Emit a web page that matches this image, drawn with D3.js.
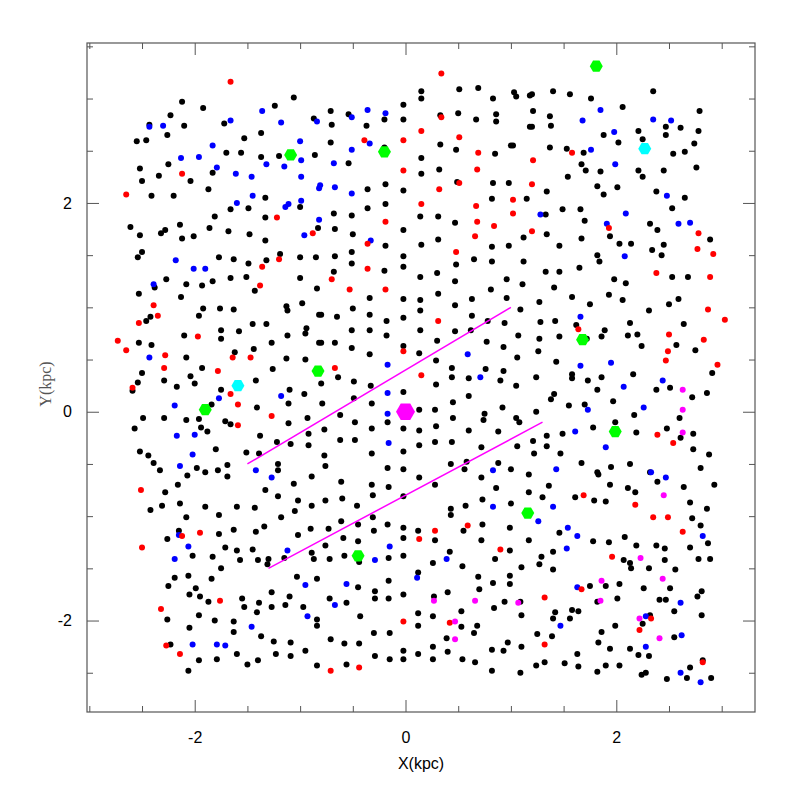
<!DOCTYPE html>
<html>
<head>
<meta charset="utf-8">
<script src="https://cdn.jsdelivr.net/npm/d3@7"></script>
<style>
  body { margin: 0; background: #fff; }
  svg { display: block; }
</style>
</head>
<body>
<div id="chart"></div>
<script>
// tick values (kpc)
const majorTicks = [-2, 0, 2];
const minorTicksX = [-3, -2.5, -1.5, -1, -0.5, 0.5, 1, 1.5, 2.5, 3];
const minorTicksY = [-2.5, -1.5, -1, -0.5, 0.5, 1, 1.5, 2.5, 3, 3.5];

// guide lines [[x1,y1],[x2,y2]]
const guideLines = [
    [[-1.5, -0.5], [1.0, 1.0]],
    [[-1.3, -1.5], [1.3, -0.1]]
];

const centre = [[0, 0]];
const greenStars = [[-1.09,2.46],[-0.20,2.49],[1.81,3.31],[-0.83,0.39],[-1.90,0.02],[1.68,0.69],[1.99,-0.19],[1.16,-0.97],[-0.45,-1.38]];
const cyanStars = [[2.27,2.52],[-1.59,0.25]];

const magentaStars = [[2.63,0.21],[2.63,0.02],[2.63,-0.20],[0.27,-1.81],[0.66,-1.81],[1.07,-1.83],[0.47,-2.01],[0.47,-2.18],
    [2.45,-0.80],[2.23,-1.40],[1.86,-1.62],[2.44,-1.60],[1.85,-1.81],[2.22,-1.98],[2.41,-2.17]];

const redStars = [[-1.66,3.16],[-2.12,2.28],[-2.65,2.08],[-1.22,1.86],[-0.88,1.71],[-1.20,1.46],[-1.36,1.39],
    [0.34,3.24],[0.34,2.82],[0.15,2.69],[0.51,2.63],[-0.39,2.60],[-0.02,2.60],[0.69,2.48],[-0.02,2.31],[0.68,2.32],[0.32,2.13],[0.51,2.19],[1.02,2.03],[0.15,1.99],[0.67,1.97],[0.68,1.82],[0.84,1.78],[1.02,1.90],[-0.19,1.82],[0.66,1.68],[-0.36,1.61],[0.48,1.53],[-0.36,1.37],
    [1.58,2.48],[1.21,2.41],[1.20,2.18],[1.93,1.76],[2.78,1.71],[1.20,1.73],[2.77,1.56],[2.92,1.51],
    [-1.38,1.21],[-2.39,1.02],[-2.35,0.92],[-2.53,0.85],[-2.73,0.68],[-2.65,0.59],[-1.97,0.72],[-2.28,0.54],[-1.64,0.52],[-1.47,0.52],[-2.29,0.42],[-1.78,0.39],[-2.59,0.23],[-1.66,0.17],[-1.59,0.07],[-1.27,-0.04],[-1.59,-0.13],
    [-0.70,1.27],[-0.53,1.17],[-0.19,1.17],[0.31,0.87],[-0.02,0.58],[-0.67,0.42],[0.15,0.35],
    [2.38,1.33],[2.89,1.29],[2.87,0.98],[3.03,0.88],[1.64,0.79],[2.50,0.74],[2.83,0.69],[2.49,0.58],[2.47,0.49],[2.96,0.45],[2.39,-0.22],[2.54,-0.30],
    [-2.51,-0.75],[-2.12,-1.19],[-1.95,-1.16],[-2.50,-1.30],[-1.76,-1.81],[-2.32,-1.89],[-2.27,-2.24],[-2.14,-2.32],
    [0.28,-1.14],[0.59,-1.09],[0.13,-1.22],[0.90,-1.32],[-0.02,-2.01],[0.42,-2.02],[-0.71,-2.48],[-0.44,-2.45],
    [1.69,-0.80],[2.18,-0.89],[2.35,-1.01],[2.49,-1.01],[2.63,-1.15],[1.96,-1.39],[1.67,-1.70],[1.32,-1.78],[2.33,-1.98],[2.22,-2.09],[1.32,-2.23],[2.82,-2.40]];

const blueStars = [[-1.36,2.88],[-2.43,2.73],[-2.30,2.74],[-1.66,2.79],[-1.18,2.77],[-0.84,2.78],[-1.00,2.59],[-1.83,2.55],[-2.13,2.43],[-1.96,2.44],[-0.99,2.41],[-1.32,2.37],[-1.15,2.35],[-1.79,2.34],[-1.61,2.28],[-1.46,2.25],[-0.99,2.25],[-0.82,2.14],[-1.45,2.07],[-1.60,2.00],[-1.11,1.99],[-1.14,1.96],[-0.99,2.02],[-0.82,1.84],[-0.96,1.69],[-2.18,1.45],[-2.01,1.37],[-1.90,1.37],
    [-0.36,2.89],[-0.51,2.82],[-0.19,2.86],[-0.34,2.57],[-0.51,2.51],[-0.68,2.38],[-0.81,2.17],[-0.67,2.15],[-0.51,2.09],[-0.33,1.64],
    [1.85,2.89],[1.68,2.79],[2.35,2.80],[2.52,2.79],[1.98,2.68],[1.76,2.51],[1.99,2.37],[2.48,2.07],[1.28,1.89],[2.09,1.90],[1.91,1.80],[2.59,1.80],[2.70,1.81],[2.08,1.49],
    [-2.39,1.22],[-2.43,0.52],[-1.77,0.13],[-1.18,0.15],[-2.19,0.06],[-2.17,-0.23],[-2.00,-0.22],[-2.02,-0.41],[-2.14,-0.52],[-1.42,-0.56],[-1.27,-0.63],
    [0.59,0.55],[-0.17,0.45],[0.71,0.33],[-0.17,0.18],[-0.17,-0.02],[-0.16,-0.30],[0.83,-0.56],
    [1.66,0.91],[1.66,0.44],[1.95,0.47],[2.44,0.30],[2.07,0.24],[1.73,0.02],[2.26,0.04],[1.61,-0.19],[1.90,-0.34],[2.33,-0.58],[2.47,-0.63],[1.43,-0.55],
    [-2.15,-1.18],[-2.06,-1.29],[-2.19,-1.41],[-1.12,-1.33],[-0.95,-1.66],[-0.93,-1.96],[-1.46,-2.06],[-2.02,-2.23],[-1.79,-2.23],[-1.71,-2.24],
    [0.83,-0.91],[-0.15,-1.29],[-0.29,-1.42],[0.39,-1.41],[0.11,-1.59],[-0.56,-1.65],[-0.67,-1.85],
    [1.40,-0.91],[1.26,-1.05],[2.82,-1.19],[1.54,-1.11],[1.63,-1.19],[1.53,-1.31],[1.63,-1.68],[2.61,-1.83],[1.47,-2.05],[2.28,-1.96],[2.62,-2.14],[2.28,-2.25],[2.61,-2.50],[2.80,-2.59]];

const blackStars = [[-2.12,2.97],[-1.06,3.01],[-2.23,2.84],[-1.92,2.91],[-1.24,2.93],[-2.43,2.75],[-2.10,2.74],[-2.26,2.65],[-1.72,2.76],[-0.87,2.81],[-1.37,2.67],[-1.53,2.62],[-2.55,2.59],[-2.46,2.60],[-1.70,2.48],[-1.56,2.48],[-1.37,2.44],[-1.20,2.45],[-0.86,2.46],[-2.52,2.33],[-2.25,2.37],[-1.83,2.29],[-2.34,2.26],[-2.50,2.21],[-2.04,2.21],[-1.87,2.13],[-2.41,2.07],[-2.20,2.07],[-1.33,2.05],[-1.49,1.95],[-1.00,1.96],[-1.66,1.94],[-1.81,1.87],[-1.33,1.86],[-2.61,1.77],[-2.14,1.79],[-2.32,1.71],[-2.28,1.74],[-2.52,1.69],[-2.12,1.66],[-2.01,1.68],[-1.86,1.76],[-1.68,1.73],[-1.48,1.70],[-1.33,1.64],[-0.83,1.76],[-2.50,1.53],[-2.54,1.48],[-1.77,1.48],[-1.63,1.46],[-1.49,1.42],[-1.32,1.45],[-1.19,1.51],[-1.00,1.48],[-0.85,1.48],
    [0.15,3.07],[0.15,3.00],[0.51,3.09],[0.69,3.10],[0.83,3.00],[1.03,3.06],[1.05,3.02],[1.18,3.03],[-0.71,2.88],[-0.54,2.85],[-0.20,2.80],[-0.02,2.94],[-0.02,2.80],[0.33,2.84],[0.50,2.86],[0.67,2.80],[0.86,2.85],[0.86,2.78],[1.18,2.73],[-0.70,2.75],[-0.37,2.74],[-0.71,2.58],[-0.20,2.53],[0.33,2.56],[0.48,2.51],[0.85,2.47],[1.00,2.55],[1.02,2.55],[-0.54,2.38],[0.15,2.43],[0.15,2.28],[0.32,2.32],[-0.36,2.13],[-0.19,2.18],[-0.02,2.12],[0.49,2.20],[0.83,2.19],[0.98,2.19],[0.82,2.04],[1.15,2.04],[-0.68,1.90],[-0.51,1.88],[-0.36,1.95],[-0.19,1.99],[0.14,1.87],[0.31,1.87],[0.47,1.81],[-0.67,1.75],[-0.50,1.70],[-0.02,1.74],[1.12,1.67],[-0.19,1.59],[0.15,1.60],[0.31,1.65],[0.82,1.58],[0.98,1.59],[-0.67,1.49],[-0.51,1.53],[-0.51,1.42],[-0.02,1.49],[0.65,1.46],[0.82,1.44],[1.12,1.44],[0.48,1.41],[-0.02,1.39],[-0.20,1.35],
    [1.20,3.04],[1.40,3.07],[1.56,3.04],[1.76,3.00],[2.35,3.07],[1.21,2.88],[2.06,2.92],[2.79,2.88],[1.37,2.83],[1.20,2.73],[1.38,2.74],[2.47,2.73],[2.47,2.65],[2.61,2.72],[2.78,2.69],[2.21,2.69],[1.88,2.65],[2.25,2.61],[2.02,2.58],[2.74,2.57],[1.37,2.53],[1.53,2.52],[1.69,2.48],[2.54,2.47],[2.65,2.49],[1.67,2.37],[1.71,2.31],[1.85,2.30],[2.21,2.31],[2.25,2.25],[2.45,2.31],[2.76,2.34],[1.54,2.25],[1.34,2.11],[1.82,2.16],[1.88,2.08],[2.01,2.15],[2.38,2.11],[2.65,2.05],[2.53,1.95],[1.49,1.94],[1.66,1.94],[1.33,1.89],[1.70,1.83],[2.32,1.80],[2.39,1.74],[2.89,1.65],[1.34,1.70],[1.67,1.66],[1.94,1.68],[1.46,1.59],[2.03,1.61],[2.14,1.61],[2.45,1.60],[2.34,1.55],[2.43,1.50],[1.82,1.50],[1.84,1.44],[1.65,1.38],
    [-2.27,1.27],[-2.38,1.19],[-2.08,1.22],[-1.93,1.21],[-1.83,1.25],[-1.66,1.28],[-1.51,1.29],[-1.43,1.16],[-1.00,1.28],[-0.84,1.18],[-2.53,1.13],[-2.13,1.10],[-2.42,0.91],[-2.46,0.87],[-1.92,0.99],[-1.96,0.92],[-1.76,0.99],[-1.63,0.98],[-1.13,1.01],[-1.12,0.97],[-0.98,1.04],[-0.82,0.93],[-1.45,0.84],[-1.32,0.84],[-0.94,0.80],[-0.95,0.75],[-1.12,0.73],[-2.53,0.66],[-2.41,0.64],[-2.10,0.73],[-1.75,0.78],[-1.75,0.70],[-1.58,0.77],[-2.08,0.52],[-1.62,0.57],[-1.44,0.60],[-1.27,0.66],[-1.13,0.51],[-0.95,0.50],[-0.82,0.66],[-2.50,0.37],[-1.93,0.42],[-1.26,0.41],[-2.54,0.28],[-2.29,0.30],[-2.04,0.34],[-2.00,0.27],[-2.17,0.24],[-1.42,0.30],[-2.59,0.20],[-1.75,0.21],[-1.10,0.21],[-0.96,0.17],[-1.11,0.08],[-1.84,0.07],[-1.41,0.04],[-2.49,-0.06],[-2.29,-0.06],[-2.08,-0.08],[-1.96,-0.07],[-1.71,-0.09],[-1.66,-0.12],[-1.94,-0.15],[-1.88,-0.19],[-0.93,-0.06],[-1.11,-0.11],[-2.57,-0.16],[-1.38,-0.23],[-0.92,-0.21],[-1.22,-0.29],[-1.09,-0.31],[-0.92,-0.32],[-2.52,-0.38],[-2.44,-0.42],[-1.80,-0.36],[-1.51,-0.39],[-1.39,-0.40],[-2.39,-0.49],[-2.33,-0.56],[-1.98,-0.54],[-1.90,-0.58],[-1.78,-0.56],[-1.69,-0.51],[-1.69,-0.62],[-2.07,-0.61],[-1.21,-0.50],[-1.21,-0.56],[-0.89,-0.62],
    [-0.68,1.34],[0.14,1.29],[0.30,1.33],[0.47,1.25],[0.96,1.27],[1.11,1.22],[0.81,1.17],[0.96,1.09],[-0.34,1.09],[-0.02,1.08],[0.14,1.07],[0.14,0.97],[0.31,1.13],[0.63,1.08],[0.47,1.02],[-0.50,0.99],[-0.80,0.93],[-0.65,0.91],[-0.34,0.93],[-0.18,0.87],[-0.02,0.90],[0.63,0.92],[1.09,0.98],[0.78,0.87],[0.94,0.85],[-0.51,0.78],[-0.34,0.78],[-0.18,0.73],[0.14,0.78],[0.47,0.77],[0.62,0.78],[1.07,0.73],[-0.80,0.66],[-0.67,0.66],[-0.51,0.61],[-0.02,0.63],[0.30,0.68],[0.77,0.67],[0.93,0.62],[-0.34,0.55],[0.13,0.56],[1.06,0.52],[0.29,0.49],[0.44,0.42],[0.76,0.41],[0.93,0.39],[-0.64,0.33],[-0.49,0.29],[0.44,0.33],[0.60,0.32],[0.90,0.30],[1.05,0.25],[-0.80,0.27],[-0.33,0.25],[0.29,0.26],[-0.02,0.19],[-0.49,0.13],[0.60,0.15],[-0.79,0.08],[-0.32,0.08],[0.45,0.09],[-0.62,-0.03],[0.13,0.02],[0.28,0.02],[0.45,-0.06],[0.75,-0.02],[0.74,-0.08],[0.92,0.04],[1.05,-0.06],[1.08,-0.10],[-0.17,-0.10],[-0.48,-0.10],[-0.77,-0.17],[-0.32,-0.16],[-0.02,-0.16],[0.13,-0.18],[0.29,-0.14],[0.60,-0.18],[0.88,-0.19],[-0.62,-0.27],[-0.48,-0.27],[0.13,-0.32],[0.28,-0.29],[0.44,-0.29],[1.06,-0.33],[0.72,-0.34],[-0.77,-0.42],[-0.32,-0.40],[-0.02,-0.38],[-0.76,-0.52],[-0.17,-0.54],[-0.02,-0.55],[0.43,-0.50],[0.58,-0.48],[0.56,-0.55],[0.88,-0.49],[1.00,-0.55],[0.13,-0.63],[0.72,-0.63],[1.17,-0.60],
    [1.33,1.34],[1.46,1.34],[1.98,1.27],[2.09,1.23],[2.53,1.29],[2.68,1.29],[1.41,1.19],[1.58,1.10],[1.93,1.12],[2.06,1.07],[1.27,1.05],[1.75,1.03],[2.50,1.03],[2.59,1.08],[2.31,0.97],[1.28,0.86],[1.42,0.87],[1.62,0.83],[2.13,0.85],[2.64,0.84],[1.72,0.70],[1.89,0.78],[1.86,0.72],[2.11,0.73],[2.20,0.74],[1.27,0.70],[1.46,0.72],[2.24,0.63],[2.57,0.64],[2.75,0.59],[1.26,0.58],[1.43,0.48],[2.91,0.37],[1.24,0.33],[1.58,0.36],[1.58,0.32],[1.73,0.30],[1.86,0.33],[2.16,0.36],[1.82,0.21],[2.38,0.21],[2.51,0.23],[2.86,0.18],[1.41,0.17],[1.38,0.12],[2.72,0.14],[1.55,0.06],[1.70,0.07],[1.97,0.10],[2.60,-0.06],[1.24,0.00],[2.17,-0.03],[1.99,-0.10],[1.78,-0.15],[1.49,-0.21],[1.34,-0.23],[1.21,-0.28],[1.34,-0.33],[2.19,-0.20],[2.48,-0.16],[2.73,-0.21],[2.61,-0.25],[2.73,-0.36],[2.88,-0.41],[1.22,-0.40],[1.47,-0.40],[1.67,-0.49],[1.95,-0.53],[2.13,-0.50],[1.82,-0.58],[1.83,-0.60],[2.32,-0.58],[2.80,-0.54],
    [-2.28,-0.77],[-2.16,-0.70],[-1.33,-0.75],[-1.06,-0.69],[-1.21,-0.81],[-1.02,-0.85],[-0.89,-0.90],[-2.31,-0.90],[-2.14,-0.88],[-2.42,-0.94],[-1.90,-0.91],[-1.60,-0.91],[-1.43,-0.92],[-1.77,-0.99],[-2.08,-1.01],[-1.18,-1.01],[-1.05,-0.95],[-2.15,-1.14],[-2.26,-1.22],[-1.77,-1.17],[-1.63,-1.13],[-1.42,-1.15],[-1.34,-1.10],[-0.90,-1.12],[-1.02,-1.18],[-2.02,-1.38],[-1.83,-1.39],[-1.71,-1.30],[-1.60,-1.33],[-1.57,-1.42],[-1.45,-1.32],[-1.40,-1.42],[-1.30,-1.41],[-1.31,-1.46],[-1.15,-1.40],[-0.89,-1.35],[-0.87,-1.41],[-1.75,-1.50],[-2.19,-1.59],[-2.06,-1.57],[-1.84,-1.60],[-2.25,-1.67],[-1.99,-1.69],[-2.05,-1.75],[-1.95,-1.77],[-1.87,-1.82],[-1.55,-1.79],[-1.53,-1.87],[-1.39,-1.83],[-1.41,-1.92],[-1.27,-1.73],[-1.10,-1.77],[-1.27,-1.87],[-1.14,-1.85],[-1.03,-1.58],[-0.84,-1.60],[-0.97,-1.87],[-0.84,-1.99],[-0.84,-2.05],[-2.26,-1.99],[-1.96,-1.95],[-2.05,-2.07],[-1.81,-2.00],[-1.63,-2.01],[-1.63,-2.11],[-1.37,-2.15],[-1.25,-2.20],[-1.09,-2.21],[-2.23,-2.23],[-1.60,-2.32],[-1.96,-2.38],[-1.79,-2.37],[-2.06,-2.48],[-1.50,-2.42],[-1.40,-2.38],[-1.23,-2.32],[-1.09,-2.34],[-0.95,-2.29],[-0.84,-2.43],
    [-0.61,-0.67],[-0.32,-0.70],[-0.16,-0.72],[0.28,-0.70],[-0.76,-0.85],[-0.60,-0.83],[-0.31,-0.80],[-0.02,-0.81],[-0.46,-0.90],[0.86,-0.73],[0.73,-0.84],[1.17,-0.77],[0.57,-0.90],[0.43,-0.93],[0.43,-0.99],[1.00,-0.88],[-0.31,-1.01],[-0.61,-1.05],[-0.73,-1.12],[-0.45,-1.08],[-0.30,-1.14],[-0.17,-1.08],[-0.02,-1.11],[0.12,-1.14],[0.55,-1.14],[0.73,-1.08],[0.99,-1.11],[-0.76,-1.28],[-0.59,-1.21],[-0.45,-1.24],[-0.02,-1.21],[0.28,-1.23],[0.72,-1.23],[1.17,-1.23],[-0.44,-1.44],[-0.72,-1.41],[-0.58,-1.38],[-0.16,-1.40],[-0.02,-1.38],[0.26,-1.45],[0.42,-1.34],[0.99,-1.33],[0.85,-1.41],[0.54,-1.48],[1.10,-1.49],[0.12,-1.54],[0.69,-1.58],[0.83,-1.64],[0.99,-1.57],[0.99,-1.65],[-0.45,-1.68],[-0.16,-1.62],[-0.29,-1.72],[-0.29,-1.79],[-0.16,-1.79],[-0.02,-1.75],[0.27,-1.77],[0.40,-1.73],[0.70,-1.70],[-0.72,-1.79],[-0.56,-1.83],[0.94,-1.82],[1.09,-1.82],[0.84,-1.88],[0.53,-1.91],[-0.43,-1.96],[0.12,-1.93],[0.26,-1.96],[1.10,-1.95],[0.12,-2.05],[0.53,-2.06],[0.68,-2.05],[-0.30,-2.12],[-0.15,-2.12],[0.65,-2.12],[0.39,-2.17],[-0.71,-2.18],[-0.58,-2.22],[-0.44,-2.22],[0.97,-2.21],[0.26,-2.25],[0.40,-2.30],[0.82,-2.28],[0.93,-2.29],[1.10,-2.25],[-0.29,-2.34],[-0.15,-2.37],[-0.02,-2.29],[-0.02,-2.37],[0.12,-2.32],[0.26,-2.37],[0.54,-2.37],[0.66,-2.40],[-0.56,-2.42],[0.82,-2.48],[1.09,-2.50],
    [1.36,-0.71],[1.94,-0.70],[2.11,-0.73],[2.18,-0.77],[2.39,-0.67],[2.64,-0.72],[2.93,-0.70],[1.30,-0.82],[1.61,-0.82],[1.79,-0.85],[1.90,-0.86],[2.70,-0.87],[2.86,-0.93],[2.72,-1.02],[2.80,-1.09],[2.87,-1.26],[1.46,-1.16],[1.78,-1.24],[1.93,-1.25],[2.08,-1.20],[2.19,-1.28],[2.38,-1.28],[2.46,-1.31],[2.70,-1.30],[1.40,-1.34],[1.29,-1.39],[1.27,-1.46],[2.07,-1.42],[2.13,-1.45],[2.14,-1.50],[2.46,-1.42],[2.78,-1.41],[2.89,-1.41],[1.40,-1.51],[2.31,-1.50],[2.56,-1.51],[1.75,-1.67],[1.90,-1.67],[2.03,-1.65],[2.26,-1.69],[2.51,-1.69],[2.81,-1.72],[2.77,-1.77],[1.82,-1.82],[2.01,-1.79],[2.41,-1.80],[2.47,-1.80],[1.42,-1.92],[1.58,-1.90],[1.64,-1.91],[1.40,-1.98],[1.56,-1.98],[2.55,-1.91],[2.81,-1.95],[2.32,-1.95],[2.25,-2.03],[1.99,-2.05],[1.86,-2.11],[1.25,-2.13],[1.39,-2.15],[1.83,-2.21],[2.55,-2.16],[1.94,-2.27],[2.13,-2.27],[2.21,-2.33],[2.31,-2.34],[1.63,-2.32],[1.24,-2.43],[1.32,-2.40],[1.51,-2.41],[1.64,-2.44],[1.90,-2.43],[2.03,-2.43],[1.82,-2.49],[2.24,-2.52],[2.28,-2.50],[2.48,-2.56],[2.67,-2.55],[2.70,-2.45],[2.82,-2.38],[2.90,-2.55]];

const W = 797, H = 797;
const frame = { left: 87, right: 755, top: 43, bottom: 712 };

const svg = d3.select("#chart").append("svg")
    .attr("width", W)
    .attr("height", H)
    .style("background", "#fff");

const x = d3.scaleLinear().domain([-3.022, 3.316]).range([frame.left, frame.right]);
const y = d3.scaleLinear().domain([-2.876, 3.532]).range([frame.bottom, frame.top]);

// hexagon with points left/right, flat top/bottom
function hexagon(r) {
    let pts = d3.range(6).map(i => {
        let a = i * Math.PI / 3;
        return [r * Math.cos(a), r * Math.sin(a)];
    });
    return "M" + pts.map(p => p.join(",")).join("L") + "Z";
}

// axes: ticks point inward on all four sides
const axisColor = "#555";
function drawAxis(axis, transform, values, size, labels) {
    let g = svg.append("g")
        .attr("transform", transform)
        .call(axis.tickValues(values).tickSize(size).tickFormat(labels ? (d => d) : ""));
    g.select(".domain").remove();
    g.selectAll("line").attr("stroke", axisColor).attr("stroke-width", 1);
    g.selectAll("text")
        .attr("fill", "#000")
        .style("font-family", "'Liberation Sans', Arial, sans-serif")
        .style("font-size", "16px");
    return g;
}

let gb = drawAxis(d3.axisBottom(x), "translate(0," + frame.bottom + ")", majorTicks, -12, true);
gb.selectAll("text").attr("y", 20).attr("dy", "0.71em");
drawAxis(d3.axisBottom(x), "translate(0," + frame.bottom + ")", minorTicksX, -6, false);
drawAxis(d3.axisTop(x), "translate(0," + frame.top + ")", majorTicks, -12, false);
drawAxis(d3.axisTop(x), "translate(0," + frame.top + ")", minorTicksX, -6, false);
let gl = drawAxis(d3.axisLeft(y), "translate(" + frame.left + ",0)", majorTicks, -12, true);
gl.selectAll("text").attr("x", -15);
drawAxis(d3.axisLeft(y), "translate(" + frame.left + ",0)", minorTicksY, -6, false);
drawAxis(d3.axisRight(y), "translate(" + frame.right + ",0)", majorTicks, -12, false);
drawAxis(d3.axisRight(y), "translate(" + frame.right + ",0)", minorTicksY, -6, false);

svg.append("rect")
    .attr("x", frame.left).attr("y", frame.top)
    .attr("width", frame.right - frame.left)
    .attr("height", frame.bottom - frame.top)
    .attr("fill", "none")
    .attr("stroke", axisColor)
    .attr("stroke-width", 1.2);

// axis titles
svg.append("text")
    .attr("x", (frame.left + frame.right) / 2)
    .attr("y", 769)
    .attr("text-anchor", "middle")
    .style("font-family", "'Liberation Sans', Arial, sans-serif")
    .style("font-size", "16px")
    .text("X(kpc)");

svg.append("text")
    .attr("transform", "translate(51,384) rotate(-90)")
    .attr("text-anchor", "middle")
    .attr("fill", "#555")
    .style("font-family", "'Liberation Serif', 'Times New Roman', serif")
    .style("font-size", "16px")
    .text("Y(kpc)");

// small dots
function dots(data, color, r) {
    svg.append("g").selectAll("circle")
        .data(data)
        .enter()
        .append("circle")
        .attr("cx", d => x(d[0]))
        .attr("cy", d => y(d[1]))
        .attr("r", r)
        .attr("fill", color);
}

dots(blackStars, "#000", 3);
dots(blueStars, "#0000ff", 3);
dots(redStars, "#ff0000", 3);
dots(magentaStars, "#ff00ff", 3);

// guide lines
svg.append("g").selectAll("path")
    .data(guideLines)
    .enter()
    .append("path")
    .attr("d", d => d3.line().x(p => x(p[0])).y(p => y(p[1]))(d))
    .attr("stroke", "#ff00ff")
    .attr("stroke-width", 1.5)
    .attr("fill", "none");

// hexagon markers
function hexes(data, color, r) {
    svg.append("g").selectAll("path")
        .data(data)
        .enter()
        .append("path")
        .attr("transform", d => "translate(" + x(d[0]) + "," + y(d[1]) + ")")
        .attr("d", hexagon(r))
        .attr("fill", color);
}

hexes(greenStars, "#00ff00", 6.5);
hexes(cyanStars, "#00ffff", 6.5);
hexes(centre, "#ff00ff", 9.5);
</script>
</body>
</html>
